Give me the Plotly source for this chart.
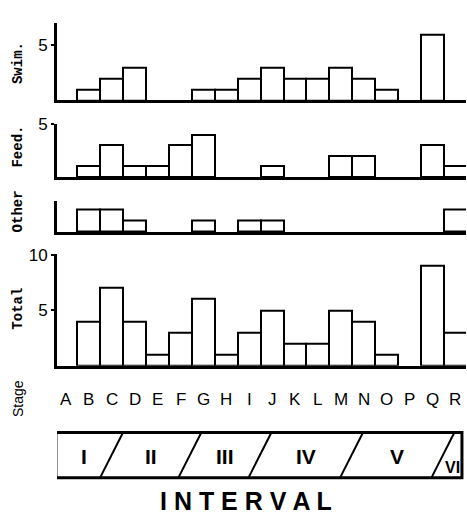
import plotly.graph_objects as go

# ---- data ----
stages = list("ABCDEFGHIJKLMNOPQR")
swim  = [0, 1, 2, 3, 0, 0, 1, 1, 2, 3, 2, 2, 3, 2, 1, 0, 6, 0]
feed  = [0, 1, 3, 1, 1, 3, 4, 0, 0, 1, 0, 0, 2, 2, 0, 0, 3, 1]
other = [0, 2, 2, 1, 0, 0, 1, 0, 1, 1, 0, 0, 0, 0, 0, 0, 0, 2]
total = [0, 4, 7, 4, 1, 3, 6, 1, 3, 5, 2, 2, 5, 4, 1, 0, 9, 3]
panel_names = ["Swim.", "Feed.", "Other", "Total"]
panel_ticks = [[5], [5], [], [5, 10]]
intervals = ["I", "II", "III", "IV", "V", "VI"]
# interval boundaries expressed in stage units (A = 0)
interval_bounds = [-0.44, 1.99, 5.41, 8.47, 12.47, 16.46, 17.29]

W, H = 467, 514
def px_x(p): return p / W
def px_y(p): return 1 - p / H

# pixel geometry of each panel: (baseline_px, top_px, ymax)
panels = [(93, 14, 7.05), (171, 117, 5.0), (227, 195, 2.78), (363, 249, 10.1)]
title_y = [55, 140, 206, 305]

series = [swim, feed, other, total]
fig = go.Figure()
xr = [-0.393, 17.467]
for i, vals in enumerate(series):
    ax = "" if i == 0 else str(i + 1)
    fig.add_trace(go.Bar(
        x=stages, y=[v if v else None for v in vals],
        xaxis="x" + ax, yaxis="y" + ax,
        marker=dict(color="white", line=dict(color="black", width=2)),
        width=1.0, showlegend=False, hoverinfo="skip"))
    base, top, ymax = panels[i]
    fig.layout["xaxis" + ax] = dict(
        domain=[px_x(57), px_x(466)], range=xr, type="category",
        anchor="y" + ax, showline=True, linecolor="black", linewidth=3,
        showticklabels=False, ticks="", showgrid=False, zeroline=False,
        categoryorder="array", categoryarray=stages)
    fig.layout["yaxis" + ax] = dict(
        domain=[px_y(base), px_y(top)], range=[0, ymax], anchor="x" + ax,
        showline=True, linecolor="black", linewidth=3, showgrid=False,
        zeroline=False, tickvals=panel_ticks[i], ticks="outside", ticklen=3,
        tickwidth=2, tickcolor="black",
        tickfont=dict(family="Liberation Sans", size=17, color="black"))
    fig.add_annotation(text="<b>" + panel_names[i] + "</b>", x=px_x(18), y=px_y(title_y[i]),
                       xref="paper", yref="paper", textangle=-90, showarrow=False,
                       xanchor="center", yanchor="middle",
                       font=dict(family="Liberation Mono", size=14, color="black"))

# Stage label
fig.add_annotation(text="Stage", x=px_x(18), y=px_y(397), xref="paper", yref="paper",
                   textangle=-90, showarrow=False, xanchor="center", yanchor="middle",
                   font=dict(family="Liberation Sans", size=14, color="black"))
for s in stages:
    fig.add_annotation(text=s, x=s, y=px_y(397), xref="x4", yref="paper",
                       showarrow=False, xanchor="center", yanchor="middle",
                       font=dict(family="Liberation Sans", size=17, color="black"))

# Interval box
box_top, box_bot = px_y(431), px_y(477)
fig.add_shape(type="rect", xref="x4", yref="paper",
              x0=interval_bounds[0], x1=interval_bounds[-1], y0=box_bot, y1=box_top,
              line=dict(color="black", width=3), fillcolor="rgba(0,0,0,0)")
slant = 0.5
for b in interval_bounds[1:-1]:
    fig.add_shape(type="line", xref="x4", yref="paper",
                  x0=b - slant, y0=box_bot, x1=b + slant, y1=box_top,
                  line=dict(color="black", width=2))
for k, name in enumerate(intervals):
    cx = (interval_bounds[k] + interval_bounds[k + 1]) / 2
    if name == "VI":
        fig.add_annotation(text="<b>VI</b>", x=cx, y=px_y(467), xref="x4", yref="paper",
                           showarrow=False, xanchor="center", yanchor="middle",
                           font=dict(family="Liberation Sans", size=16, color="black"))
    else:
        fig.add_annotation(text="<b>" + name + "</b>", x=cx, y=px_y(455), xref="x4", yref="paper",
                           showarrow=False, xanchor="center", yanchor="middle",
                           font=dict(family="Liberation Sans", size=21, color="black"))

fig.add_annotation(text="<b>I N T E R V A L</b>", x=px_x(246), y=px_y(501),
                   xref="paper", yref="paper", showarrow=False,
                   xanchor="center", yanchor="middle",
                   font=dict(family="Liberation Sans", size=25, color="black"))

fig.update_layout(width=W, height=H, margin=dict(l=0, r=0, t=0, b=0),
                  paper_bgcolor="white", plot_bgcolor="white", bargap=0)
fig.write_html("out.html", config={"displayModeBar": False},
               post_script="document.body.style.margin='0';document.body.style.overflow='hidden';")
